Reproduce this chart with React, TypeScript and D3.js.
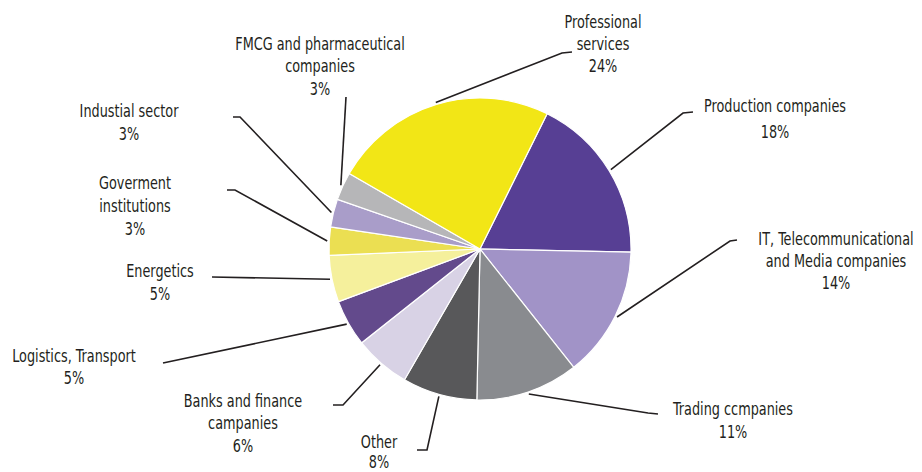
import React from "react";
import * as d3 from "d3";

const categories = [
  "Production companies",
  "IT, Telecommunicational and Media companies",
  "Trading ccmpanies",
  "Other",
  "Banks and finance campanies",
  "Logistics, Transport",
  "Energetics",
  "Goverment institutions",
  "Industial sector",
  "FMCG and pharmaceutical companies",
  "Professional services",
];
const values = [18, 14, 11, 8, 6, 5, 5, 3, 3, 3, 24];
const labelLines = [
  ["Production companies"],
  ["IT, Telecommunicational", "and Media companies"],
  ["Trading ccmpanies"],
  ["Other"],
  ["Banks and finance", "campanies"],
  ["Logistics, Transport"],
  ["Energetics"],
  ["Goverment", "institutions"],
  ["Industial sector"],
  ["FMCG and pharmaceutical", "companies"],
  ["Professional", "services"],
];
const colors = [
  "#573f94", "#a193c7", "#898b8f", "#58585a", "#d8d2e5", "#634a8c",
  "#f5f09c", "#ebdf52", "#a99dc9", "#b6b6b8", "#f2e616",
];

// layout: label center x, first baseline y, line gap, leader elbow, leader end
const layout = [
  { cx: 775, y: 112, gap: 26, elbow: [683, 113], end: [693, 112] },
  { cx: 836, y: 245, gap: 22, elbow: [730, 241], end: [737, 240] },
  { cx: 733, y: 415, gap: 23, elbow: [648, 413], end: [658, 414] },
  { cx: 379, y: 448, gap: 20, elbow: [427, 450], end: [417, 450] },
  { cx: 243, y: 407, gap: 22.5, elbow: [343, 405], end: [333, 405] },
  { cx: 74, y: 362, gap: 22, elbow: [163, 363], end: [163, 363] },
  { cx: 160, y: 277, gap: 23, elbow: [212, 277], end: [212, 277] },
  { cx: 135, y: 189, gap: 23, elbow: [235, 190], end: [227, 190] },
  { cx: 129, y: 117, gap: 23, elbow: [240, 117], end: [233, 117] },
  { cx: 320, y: 50, gap: 22.5, elbow: [346, 97], end: [346, 97] },
  { cx: 603, y: 28, gap: 22, elbow: [562, 53], end: [572, 52] },
];

const W = 922;
const H = 472;
const CX = 480;
const CY = 249;
const R = 151;
const START = (26.4 * Math.PI) / 180;
const SX = 0.84;

export default function App() {
  const pie = d3
    .pie<number>()
    .sort(null)
    .value((d) => d)
    .startAngle(START)
    .endAngle(START + 2 * Math.PI);
  const arcs = pie(values);
  const arc = d3.arc<d3.PieArcDatum<number>>().innerRadius(0).outerRadius(R);
  const edge = d3
    .arc<d3.PieArcDatum<number>>()
    .innerRadius(R + 2)
    .outerRadius(R + 2);
  const font = "'DejaVu Sans Condensed', 'DejaVu Sans', sans-serif";

  return (
    <svg
      width={W}
      height={H}
      style={{ position: "absolute", left: 0, top: 0, background: "#fff" }}
    >
      <g transform={`translate(${CX},${CY})`}>
        {arcs.map((a, i) => (
          <path
            key={categories[i]}
            d={arc(a) || ""}
            fill={colors[i]}
            stroke="#ffffff"
            strokeWidth={1.2}
          />
        ))}
      </g>
      {arcs.map((a, i) => {
        const [sx, sy] = edge.centroid(a);
        const L = layout[i];
        const pts = [[CX + sx, CY + sy], L.elbow, L.end];
        return (
          <path
            key={"l" + i}
            d={d3.line()(pts as [number, number][]) || ""}
            fill="none"
            stroke="#231f20"
            strokeWidth={1.6}
          />
        );
      })}
      {labelLines.map((lines, i) => {
        const L = layout[i];
        const all = [...lines, `${values[i]}%`];
        return (
          <text
            key={"t" + i}
            textAnchor="middle"
            fontFamily={font}
            fontSize={17}
            fill="#231f20"
            transform={`translate(${L.cx},0) scale(${SX},1)`}
          >
            {all.map((ln, j) => (
              <tspan key={j} x={0} y={L.y + j * L.gap}>
                {ln}
              </tspan>
            ))}
          </text>
        );
      })}
    </svg>
  );
}
